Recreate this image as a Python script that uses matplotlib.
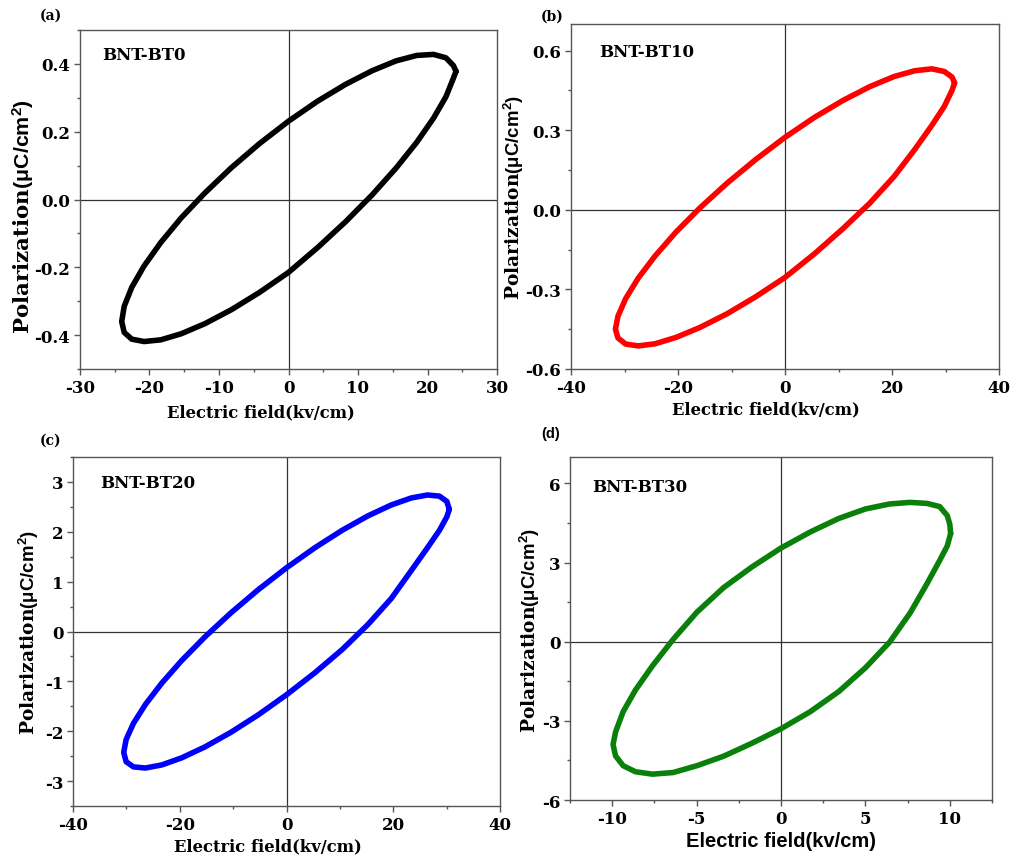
import matplotlib
matplotlib.use("Agg")
import matplotlib.pyplot as plt
from matplotlib.ticker import MultipleLocator

plt.rcParams["mathtext.fontset"] = "custom"
plt.rcParams["mathtext.bf"] = "Liberation Sans:bold"
plt.rcParams["mathtext.rm"] = "Liberation Sans:bold"

SERIF = "DejaVu Serif"
SANS = "Liberation Sans"

# P-E hysteresis loops: electric field (kV/cm) and polarization (uC/cm^2),
# traced from the positive tip along the upper branch and back along the lower one
e_bt0 = [24.1, 23.73, 22.65, 20.87, 18.46, 15.49, 12.05, 8.24, 4.18, 0.0,
         -4.17, -8.21, -12.0, -15.43, -18.38, -20.78, -22.55, -23.64, -24.0,
         -23.64, -22.55, -20.78, -18.38, -15.43, -12.0, -8.21, -4.17, 0.0,
         4.18, 8.24, 12.05, 15.49, 18.46, 20.87, 22.65, 23.73, 24.1]
p_bt0 = [0.378, 0.395, 0.418, 0.428, 0.425, 0.409, 0.380, 0.340, 0.290, 0.231,
         0.165, 0.094, 0.020, -0.054, -0.127, -0.196, -0.259, -0.315, -0.360,
         -0.392, -0.412, -0.419, -0.414, -0.396, -0.366, -0.325, -0.274, -0.215,
         -0.142, -0.065, 0.014, 0.093, 0.169, 0.240, 0.303, 0.358, 0.378]

e_bt10 = [31.7, 31.22, 29.79, 27.45, 24.28, 20.38, 15.85, 10.84, 5.50, 0.0,
          -5.50, -10.84, -15.85, -20.38, -24.28, -27.45, -29.79, -31.22, -31.7,
          -31.22, -29.79, -27.45, -24.28, -20.38, -15.85, -10.84, -5.50, 0.0,
          5.50, 10.84, 15.85, 20.38, 24.28, 27.45, 29.79, 31.22, 31.7]
p_bt10 = [0.478, 0.500, 0.521, 0.531, 0.524, 0.502, 0.464, 0.412, 0.348, 0.273,
          0.189, 0.100, 0.008, -0.084, -0.174, -0.258, -0.335, -0.401, -0.450,
          -0.483, -0.506, -0.513, -0.505, -0.481, -0.443, -0.392, -0.328, -0.255,
          -0.166, -0.071, 0.025, 0.125, 0.228, 0.318, 0.390, 0.450, 0.478]

e_bt20 = [30.5, 30.04, 28.66, 26.41, 23.36, 19.61, 15.25, 10.43, 5.30, 0.0,
          -5.30, -10.43, -15.25, -19.61, -23.36, -26.41, -28.66, -30.04, -30.5,
          -30.04, -28.66, -26.41, -23.36, -19.61, -15.25, -10.43, -5.30, 0.0,
          5.30, 10.43, 15.25, 19.61, 23.36, 26.41, 28.66, 30.04, 30.5]
p_bt20 = [2.45, 2.609, 2.715, 2.738, 2.678, 2.537, 2.319, 2.030, 1.679, 1.278,
          0.838, 0.372, -0.105, -0.579, -1.035, -1.460, -1.840, -2.165, -2.424,
          -2.612, -2.716, -2.738, -2.676, -2.533, -2.313, -2.023, -1.672, -1.269,
          -0.829, -0.362, 0.14, 0.66, 1.22, 1.68, 2.03, 2.30, 2.45]

e_bt30 = [10.05, 10.0, 9.85, 9.40, 8.66, 7.66, 6.43, 5.0, 3.42, 1.74, 0.0,
          -1.73, -3.40, -4.98, -6.40, -7.62, -8.62, -9.35, -9.80, -9.95,
          -9.80, -9.35, -8.62, -7.62, -6.40, -4.98, -3.40, -1.73, 0.0,
          1.74, 3.42, 5.0, 6.43, 7.66, 8.66, 9.40, 9.85, 10.05]
p_bt30 = [4.10, 4.45, 4.78, 5.12, 5.24, 5.28, 5.22, 5.03, 4.67, 4.16, 3.55,
          2.83, 2.05, 1.12, 0.08, -0.92, -1.83, -2.65, -3.42, -3.90,
          -4.33, -4.70, -4.93, -5.02, -4.96, -4.70, -4.34, -3.85, -3.30,
          -2.65, -1.89, -0.99, -0.02, 1.10, 2.21, 3.08, 3.63, 4.10]

panels = [
    dict(tag="(a)", name="BNT-BT0", e=e_bt0, p=p_bt0, color="black",
         xlim=(-30, 30), ylim=(-0.5, 0.5), xmin=5, ymaj=0.2, ymin=0.1,
         yfmt="{:.1f}", rect=(80, 31, 497, 370), tagpos=(40, 16), tagfont=SERIF,
         xfont=SERIF, xsize=11.8, xticks=[-30, -20, -10, 0, 10, 20, 30],
         namepos=(0.053, 0.929), xlab=(0.434, 5.5), ylab=(-0.1055, 0.454, 15.4)),
    dict(tag="(b)", name="BNT-BT10", e=e_bt10, p=p_bt10, color="#ff0000",
         xlim=(-40, 40), ylim=(-0.6, 0.7), xmin=10, ymaj=0.3, ymin=0.15,
         yfmt="{:.1f}", rect=(571, 25, 999, 370), tagpos=(541, 17), tagfont=SERIF,
         xfont=SERIF, xsize=11.8, xticks=[-40, -20, 0, 20, 40],
         namepos=(0.065, 0.92), xlab=(0.456, 3), ylab=(-0.104, 0.501, 13.4)),
    dict(tag="(c)", name="BNT-BT20", e=e_bt20, p=p_bt20, color="#0000ff",
         xlim=(-40, 40), ylim=(-3.5, 3.5), xmin=10, ymaj=1, ymin=0.5,
         yfmt="{:.0f}", rect=(73, 458, 500, 807), tagpos=(40, 441), tagfont=SERIF,
         xfont=SERIF, xsize=11.8, xticks=[-40, -20, 0, 20, 40],
         namepos=(0.063, 0.928), xlab=(0.457, 3), ylab=(-0.075, 0.5, 13.4)),
    dict(tag="(d)", name="BNT-BT30", e=e_bt30, p=p_bt30, color="#0a800a",
         xlim=(-12.5, 12.5), ylim=(-6, 7), xmin=2.5, ymaj=3, ymin=1.5,
         yfmt="{:.0f}", rect=(570, 458, 992, 801), tagpos=(541, 434), tagfont=SANS,
         xfont=SANS, xsize=14.5, xticks=[-10, -5, 0, 5, 10],
         namepos=(0.052, 0.913), xlab=(0.5, 3), ylab=(-0.066, 0.496, 13.4)),
]

W, H = 1015, 862
fig = plt.figure(figsize=(W / 100, H / 100), dpi=100)

for pn in panels:
    l, t, r, b = pn["rect"]
    ax = fig.add_axes([l / W, 1 - b / H, (r - l) / W, (b - t) / H])
    ax.plot(pn["e"], pn["p"], color=pn["color"], lw=4, solid_joinstyle="round",
            solid_capstyle="round", zorder=3)
    ax.axhline(0, color="#333333", lw=0.9, zorder=2)
    ax.axvline(0, color="#333333", lw=0.9, zorder=2)
    ax.set_xlim(*pn["xlim"])
    ax.set_ylim(*pn["ylim"])
    ax.set_xticks(pn["xticks"])
    ax.xaxis.set_minor_locator(MultipleLocator(pn["xmin"]))
    ax.yaxis.set_major_locator(MultipleLocator(pn["ymaj"]))
    ax.yaxis.set_minor_locator(MultipleLocator(pn["ymin"]))
    yt = [v for v in ax.get_yticks() if pn["ylim"][0] - 1e-9 <= v <= pn["ylim"][1] + 1e-9]
    ax.set_yticks(yt)
    ax.set_yticklabels([pn["yfmt"].format(0.0 if abs(v) < 1e-9 else v) for v in yt])
    ax.set_xticklabels([f"{v:g}" for v in pn["xticks"]])
    for s in ax.spines.values():
        s.set_color("#555555")
        s.set_linewidth(1.0)
    ax.tick_params(which="major", direction="out", length=4, width=1, color="#555555",
                   labelsize=12, pad=3)
    ax.tick_params(which="minor", direction="out", length=2.5, width=1, color="#555555")
    for lab in ax.get_xticklabels() + ax.get_yticklabels():
        lab.set_fontfamily(SERIF)
        lab.set_fontweight("bold")

    xl = ax.set_xlabel("Electric field(kv/cm)", fontsize=pn["xsize"], fontweight="bold",
                       family=pn["xfont"], labelpad=pn["xlab"][1])
    xl.set_x(pn["xlab"][0])

    ylx, yly, ylsize = pn["ylab"]
    ax.set_ylabel(r"Polarization$\mathbf{(\mu C/cm^2)}$", fontsize=ylsize,
                  fontweight="bold", family=SERIF)
    ax.yaxis.set_label_coords(ylx, yly)

    ax.text(pn["namepos"][0], pn["namepos"][1], pn["name"], transform=ax.transAxes,
            fontsize=12, fontweight="bold", family=SERIF, va="center", ha="left")
    fig.text(pn["tagpos"][0] / W, 1 - pn["tagpos"][1] / H, pn["tag"],
             fontsize=10 if pn["tagfont"] == SERIF else 10.5,
             fontweight="bold", family=pn["tagfont"], ha="left", va="center")

fig.savefig("out.png", dpi=100)
